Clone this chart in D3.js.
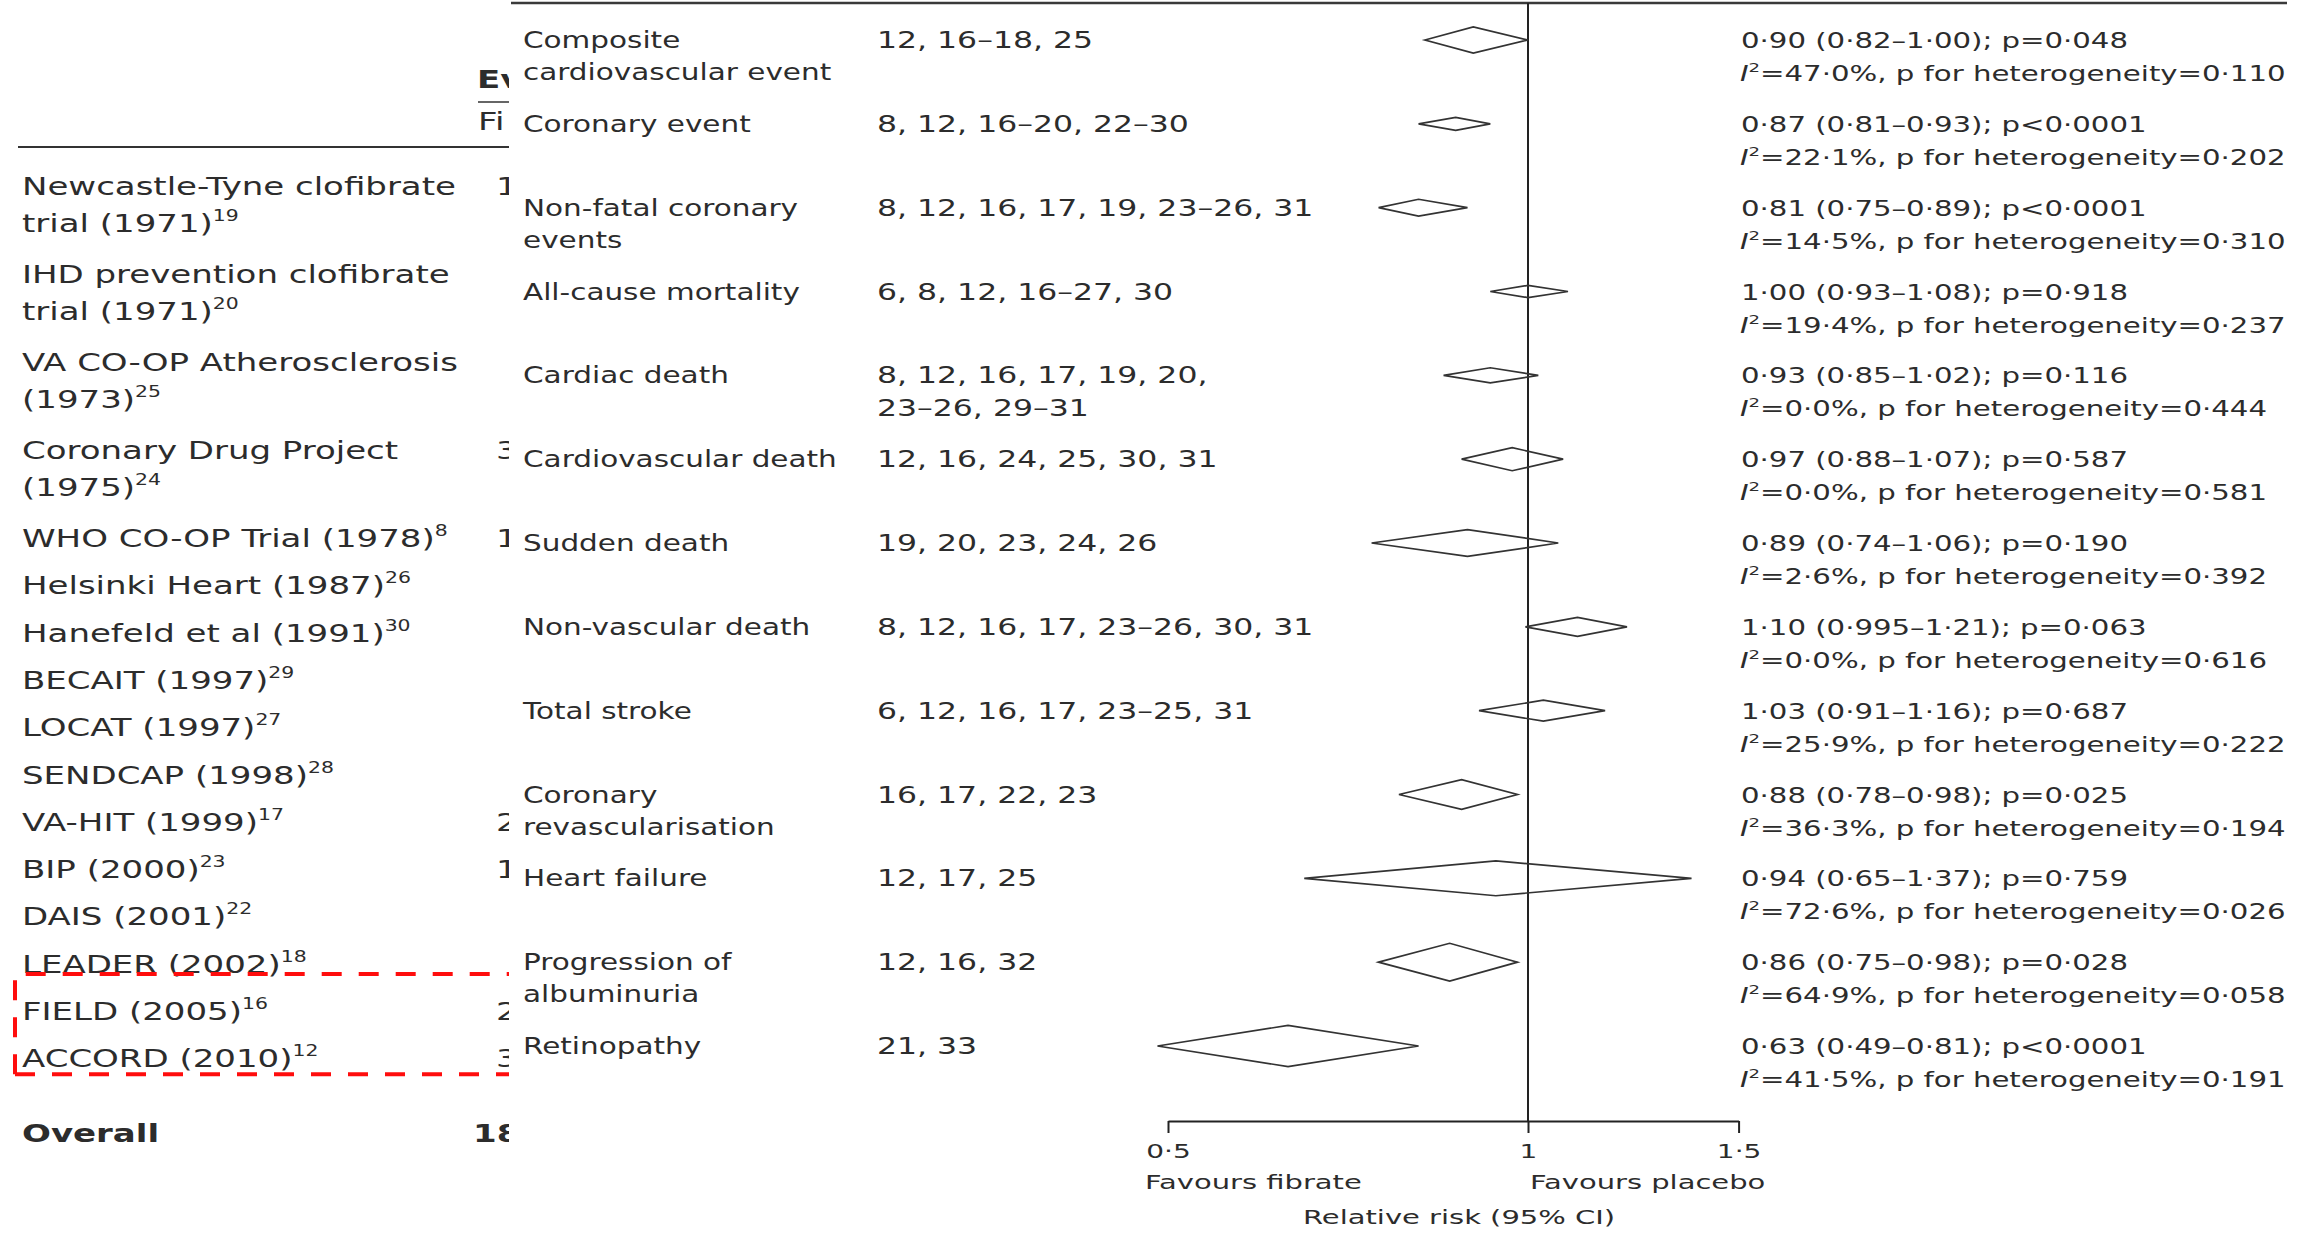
<!DOCTYPE html>
<html>
<head>
<meta charset="utf-8">
<script src="https://cdn.jsdelivr.net/npm/d3@7"></script>
<style>
  html, body { margin: 0; padding: 0; background: #fff; }
  svg { display: block; }
  text { font-family: "DejaVu Sans", "Noto Sans", sans-serif; fill: #2c2c2c; }
</style>
</head>
<body>
<svg id="chart" width="2304" height="1233"></svg>
<script>
// ---------------- DATA ----------------
// Left (partially hidden) trial list
const trialNames = [
  ["Newcastle-Tyne clofibrate", "trial (1971)"],
  ["IHD prevention clofibrate", "trial (1971)"],
  ["VA CO-OP Atherosclerosis", "(1973)"],
  ["Coronary Drug Project", "(1975)"],
  ["WHO CO-OP Trial (1978)"],
  ["Helsinki Heart (1987)"],
  ["Hanefeld et al (1991)"],
  ["BECAIT (1997)"],
  ["LOCAT (1997)"],
  ["SENDCAP (1998)"],
  ["VA-HIT (1999)"],
  ["BIP (2000)"],
  ["DAIS (2001)"],
  ["LEADER (2002)"],
  ["FIELD (2005)"],
  ["ACCORD (2010)"]
];
const trialRefs = ["19", "20", "25", "24", "8", "26", "30", "29", "27", "28", "17", "23", "22", "18", "16", "12"];
// first (visible) characters of the clipped fibrate events column
const fibrateEventsVisible = ["1", "", "", "3", "1", "", "", "", "", "", "2", "1", "", "", "2", "3"];
const overallLabel = "Overall";
const overallEventsVisible = "18";
const highlightedTrials = ["FIELD (2005)", "ACCORD (2010)"];
const leftHeadersVisible = ["Ev", "Fi"];   // "Events" / "Fibrate", cut off by the overlaid panel

// Right summary forest plot
const outcomes = [
  ["Composite", "cardiovascular event"],
  ["Coronary event"],
  ["Non-fatal coronary", "events"],
  ["All-cause mortality"],
  ["Cardiac death"],
  ["Cardiovascular death"],
  ["Sudden death"],
  ["Non-vascular death"],
  ["Total stroke"],
  ["Coronary", "revascularisation"],
  ["Heart failure"],
  ["Progression of", "albuminuria"],
  ["Retinopathy"]
];
const studyRefs = [
  ["12, 16–18, 25"],
  ["8, 12, 16–20, 22–30"],
  ["8, 12, 16, 17, 19, 23–26, 31"],
  ["6, 8, 12, 16–27, 30"],
  ["8, 12, 16, 17, 19, 20,", "23–26, 29–31"],
  ["12, 16, 24, 25, 30, 31"],
  ["19, 20, 23, 24, 26"],
  ["8, 12, 16, 17, 23–26, 30, 31"],
  ["6, 12, 16, 17, 23–25, 31"],
  ["16, 17, 22, 23"],
  ["12, 17, 25"],
  ["12, 16, 32"],
  ["21, 33"]
];
const relativeRisk = [0.90, 0.87, 0.81, 1.00, 0.93, 0.97, 0.89, 1.10, 1.03, 0.88, 0.94, 0.86, 0.63];
const ciLower      = [0.82, 0.81, 0.75, 0.93, 0.85, 0.88, 0.74, 0.995, 0.91, 0.78, 0.65, 0.75, 0.49];
const ciUpper      = [1.00, 0.93, 0.89, 1.08, 1.02, 1.07, 1.06, 1.21, 1.16, 0.98, 1.37, 0.98, 0.81];
const pValue       = ["=0·048", "<0·0001", "<0·0001", "=0·918", "=0·116", "=0·587", "=0·190", "=0·063", "=0·687", "=0·025", "=0·759", "=0·028", "<0·0001"];
const iSquared     = [47.0, 22.1, 14.5, 19.4, 0.0, 0.0, 2.6, 0.0, 25.9, 36.3, 72.6, 64.9, 41.5];
const pHeterogeneity = [0.110, 0.202, 0.310, 0.237, 0.444, 0.581, 0.392, 0.616, 0.222, 0.194, 0.026, 0.058, 0.191];
// relative drawn weight of each pooled diamond
const diamondWeight = [0.62, 0.31, 0.40, 0.29, 0.36, 0.55, 0.64, 0.45, 0.50, 0.71, 0.83, 0.90, 0.98];
const axisTicks = [0.5, 1, 1.5];
const axisLabels = { left: "Favours fibrate", right: "Favours placebo", title: "Relative risk (95% CI)" };

// ---------------- HELPERS ----------------
const svg = d3.select("#chart");
const dot = s => s.replace(".", "·");
const fmtRR = v => Math.abs(Math.round(v * 100) / 100 - v) < 1e-9 ? dot(v.toFixed(2)) : dot(String(v));
const fmt1 = d3.format(".1f"), fmt3 = d3.format(".3f");

function stretchedText(g, x, y, sx, size, weight) {
  return g.append("text")
    .attr("transform", `translate(${x},${y}) scale(${sx},1)`)
    .attr("font-size", size)
    .attr("font-weight", weight || "normal");
}

// ---------------- LEFT PANEL (clipped) ----------------
svg.append("defs").append("clipPath").attr("id", "leftClip")
  .append("rect").attr("x", 0).attr("y", 0).attr("width", 509).attr("height", 1233);
const left = svg.append("g").attr("clip-path", "url(#leftClip)");
const LSX = 1.36, LFS = 25;

stretchedText(left, 477, 88, LSX, LFS, "bold").text(leftHeadersVisible[0]);
stretchedText(left, 478, 130, LSX, LFS).text(leftHeadersVisible[1]);
left.append("line").attr("x1", 478).attr("x2", 560).attr("y1", 102).attr("y2", 102)
  .attr("stroke", "#333").attr("stroke-width", 1.5);
left.append("line").attr("x1", 18).attr("x2", 560).attr("y1", 147).attr("y2", 147)
  .attr("stroke", "#333").attr("stroke-width", 2);

// layout of trial rows
const rowPitch = 47.3, linePitch = 37, twoLinePitch = 88;
let yb = 195;
const trialY = [];
trialNames.forEach(n => { trialY.push(yb); yb += n.length > 1 ? twoLinePitch : rowPitch; });

trialNames.forEach((lines, i) => {
  lines.forEach((ln, j) => {
    const t = stretchedText(left, 22, trialY[i] + j * linePitch, LSX, LFS);
    t.append("tspan").text(ln);
    if (j === lines.length - 1) {
      t.append("tspan").attr("dy", -11).attr("font-size", 15).text(trialRefs[i]);
    }
  });
  if (fibrateEventsVisible[i]) {
    stretchedText(left, 496, trialY[i], LSX, LFS).text(fibrateEventsVisible[i]);
  }
});
const overallY = trialY[trialY.length - 1] + 75;
stretchedText(left, 22, overallY, LSX, LFS, "bold").text(overallLabel);
stretchedText(left, 473, overallY, LSX, LFS, "bold").text(overallEventsVisible);

// red dashed highlight box around FIELD and ACCORD
const iField = trialNames.findIndex(n => n[0] === highlightedTrials[0]);
const iAccord = trialNames.findIndex(n => n[0] === highlightedTrials[1]);
const boxTop = trialY[iField] - 46, boxBottom = trialY[iAccord] + 7;
const red = "#ff0d0d";
left.append("path").attr("d", `M15,${boxBottom}V${boxTop}H560`)
  .attr("fill", "none").attr("stroke", red).attr("stroke-width", 4).attr("stroke-dasharray", "20 17");
left.append("path").attr("d", `M15,${boxBottom}H560`)
  .attr("fill", "none").attr("stroke", red).attr("stroke-width", 4).attr("stroke-dasharray", "20 17");

// ---------------- RIGHT PANEL ----------------
const right = svg.append("g");
right.append("rect").attr("x", 509).attr("y", 0).attr("width", 2304 - 509).attr("height", 1233).attr("fill", "#fff");

const x = d3.scaleLog().domain([0.5, 1.5]).range([1168, 1168 + 360 / Math.LN2 * Math.log(3)]);
const y = d3.scaleLinear().domain([0, outcomes.length - 1]).range([40, 1046]);
const hScale = d3.scaleLinear().domain([0, 1]).range([0, 42]);
const axisY = 1121;

// top rule
right.append("line").attr("x1", 511).attr("x2", 2287).attr("y1", 3).attr("y2", 3)
  .attr("stroke", "#3a3a3a").attr("stroke-width", 2.5);

// reference line at RR = 1
right.append("line").attr("x1", x(1)).attr("x2", x(1)).attr("y1", 3).attr("y2", axisY)
  .attr("stroke", "#222").attr("stroke-width", 2);

// labels, refs, stats
const LABSX = 1.31, REFSX = 1.40, STSX = 1.39;
outcomes.forEach((lines, i) => {
  const yy = y(i) + 8;
  lines.forEach((ln, j) => stretchedText(right, 523, yy + j * 32, LABSX, 22.5).text(ln));
  studyRefs[i].forEach((ln, j) => stretchedText(right, 877, yy + j * 33, REFSX, 22.5).text(ln));
  stretchedText(right, 1741, yy, STSX, 21)
    .text(`${fmtRR(relativeRisk[i])} (${fmtRR(ciLower[i])}–${fmtRR(ciUpper[i])}); p${pValue[i]}`);
  const t2 = stretchedText(right, 1740, yy + 33, STSX, 21);
  t2.append("tspan").attr("font-style", "italic").text("I");
  t2.append("tspan").attr("dy", -9).attr("font-size", 13).text("2");
  t2.append("tspan").attr("dy", 9)
    .text(`=${dot(fmt1(iSquared[i]))}%, p for heterogeneity=${dot(fmt3(pHeterogeneity[i]))}`);
});

// diamonds
right.append("g").selectAll("path").data(relativeRisk).join("path")
  .attr("d", (d, i) => {
    const cy = y(i), h = hScale(diamondWeight[i]) / 2;
    return `M${x(ciLower[i])},${cy}L${x(d)},${cy - h}L${x(ciUpper[i])},${cy}L${x(d)},${cy + h}Z`;
  })
  .attr("fill", "none").attr("stroke", "#333").attr("stroke-width", 1.7);

// axis
const axis = d3.axisBottom(x).tickValues(axisTicks).tickSize(12).tickSizeOuter(0)
  .tickFormat(d => dot(String(d)));
const ag = right.append("g").attr("transform", `translate(0,${axisY})`).call(axis);
ag.select(".domain").attr("stroke", "#222").attr("stroke-width", 2);
ag.selectAll(".tick line").attr("stroke", "#222").attr("stroke-width", 2);
ag.selectAll(".tick text")
  .attr("y", 0).attr("dy", 0)
  .attr("transform", "translate(0,37) scale(1.4,1)")
  .attr("font-size", 20).attr("font-family", "DejaVu Sans").attr("fill", "#2c2c2c");

stretchedText(right, 1145, 1189, 1.45, 20).text(axisLabels.left);
stretchedText(right, 1530, 1189, 1.45, 20).text(axisLabels.right);
stretchedText(right, 1303, 1224, 1.45, 20).text(axisLabels.title);
</script>
</body>
</html>
